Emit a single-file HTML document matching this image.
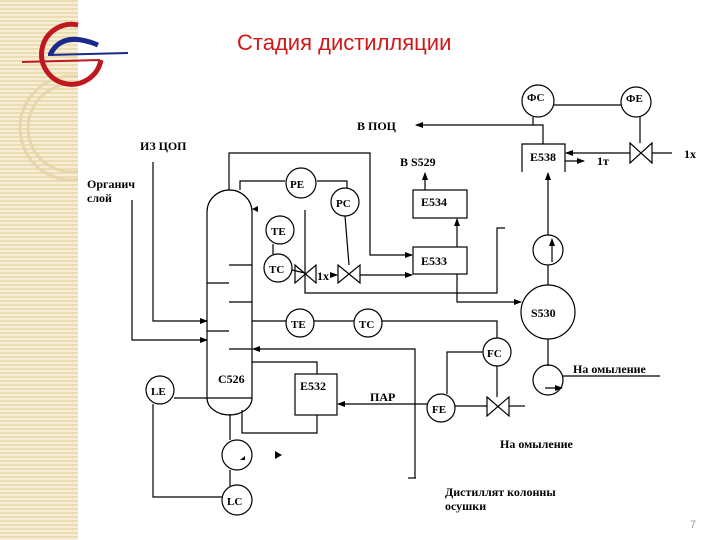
<!DOCTYPE html>
<html><head><meta charset="utf-8"><style>
html,body{margin:0;padding:0;width:720px;height:540px;overflow:hidden;background:#fff}
.strip{position:absolute;left:0;top:0;width:78px;height:540px;background:repeating-linear-gradient(180deg,#ecdcb4 0 2px,#f7eed6 2px 4px)}
</style></head><body>
<div class="strip"></div>
<svg width="720" height="540" style="position:absolute;left:0;top:0" font-family="Liberation Serif, serif" font-weight="bold" font-size="12">
<defs><marker id="a" markerWidth="8" markerHeight="8" refX="7" refY="4" orient="auto" markerUnits="userSpaceOnUse"><path d="M0,1L8,4L0,7z" fill="#000"/></marker>
<clipPath id="c"><rect x="0" y="0" width="78" height="540"/></clipPath></defs>
<!-- logo -->
<g clip-path="url(#c)" fill="none" stroke="#e6d6ac" stroke-width="3">
<circle cx="72" cy="128" r="52"/><circle cx="72" cy="128" r="44"/>
</g>
<path d="M78,25 A30,30 0 1 0 101,60" fill="none" stroke="#c01820" stroke-width="5"/>
<path d="M50,55 Q62,30 98,45" fill="none" stroke="#1a2a8a" stroke-width="5"/>
<line x1="22" y1="62" x2="100" y2="60" stroke="#c01820" stroke-width="2"/>
<line x1="48" y1="55" x2="128" y2="53" stroke="#1a2a8a" stroke-width="2"/>
<text x="237" y="50" font-family="Liberation Sans, sans-serif" font-weight="normal" font-size="22" fill="#d01818">Стадия дистилляции</text>
<g stroke="#000" stroke-width="1.2" fill="none">
<path d="M207,398 V212 A22.5,22 0 0 1 252,212 V398 A22.5,17 0 0 1 207,398"/>
<line x1="207" y1="398" x2="252" y2="398"/>
<line x1="229" y1="265" x2="252" y2="265"/><line x1="207" y1="283" x2="229" y2="283"/>
<line x1="229" y1="302" x2="252" y2="302"/><line x1="207" y1="331" x2="229" y2="331"/>
<line x1="229" y1="349" x2="252" y2="349"/>
<polyline points="153,162 153,321 207,321" marker-end="url(#a)"/>
<polyline points="132,200 132,340 207,340" marker-end="url(#a)"/>
<polyline points="229,190 229,153 370,153 370,255 412,255" marker-end="url(#a)"/>
<polyline points="240,190 240,181 285,181"/>
<polyline points="317,181 347,181 347,188"/>
<circle cx="301" cy="183" r="15"/><circle cx="345" cy="202" r="14"/>
<line x1="345" y1="216" x2="349" y2="265"/>
<circle cx="280" cy="230" r="14"/><circle cx="278" cy="268" r="14"/>
<line x1="273" y1="244" x2="273" y2="254"/>
<polyline points="292,270 305,273"/>
<path d="M295,265 L316,283 L316,265 L295,283Z"/>
<polyline points="305,210 305,293 497,293 497,228 505,228"/>
<line x1="330" y1="275" x2="337" y2="275" marker-end="url(#a)"/>
<path d="M338,265 L360,283 L360,265 L338,283Z"/>
<line x1="360" y1="275" x2="412" y2="275" marker-end="url(#a)"/>
<rect x="413" y="247" width="54" height="27"/>
<rect x="413" y="190" width="54" height="28"/>
<line x1="457" y1="247" x2="457" y2="219" marker-end="url(#a)"/>
<line x1="425" y1="190" x2="425" y2="173" marker-end="url(#a)"/>
<polyline points="457,274 457,302 521,302" marker-end="url(#a)"/>
<circle cx="548" cy="312" r="27"/>
<line x1="252" y1="321" x2="286" y2="321"/><circle cx="300" cy="323" r="14"/>
<line x1="314" y1="321" x2="354" y2="321"/><circle cx="368" cy="323" r="14"/>
<polyline points="382,321 497,321 497,338"/>
<circle cx="497" cy="352" r="14"/>
<polyline points="483,352 447,352 447,394"/>
<line x1="497" y1="366" x2="497" y2="397"/>
<circle cx="441" cy="408" r="14"/>
<line x1="455" y1="406" x2="487" y2="406"/>
<path d="M487,397 L509,416 L509,397 L487,416Z"/>
<line x1="509" y1="406" x2="525" y2="406"/>
<line x1="427" y1="404" x2="338" y2="404" marker-end="url(#a)"/>
<rect x="295" y="374" width="42" height="41"/>
<polyline points="317,374 317,362 252,362"/>
<polyline points="317,415 317,433 242,433 242,410"/>
<polyline points="415,478 415,349 253,349" marker-end="url(#a)"/>
<line x1="416" y1="478" x2="408" y2="478"/>
<line x1="230" y1="414" x2="230" y2="440"/>
<circle cx="237" cy="455" r="15"/>
<line x1="230" y1="470" x2="230" y2="486"/>
<circle cx="237" cy="500" r="15"/>
<circle cx="160" cy="390" r="14"/>
<line x1="174" y1="398" x2="207" y2="398"/>
<polyline points="153,404 153,497 222,497"/>
<line x1="548" y1="339" x2="548" y2="366"/>
<circle cx="548" cy="380" r="15"/>
<line x1="545" y1="388" x2="562" y2="388" marker-end="url(#a)"/>
<line x1="563" y1="376" x2="660" y2="376"/>
<line x1="548" y1="285" x2="548" y2="265"/>
<circle cx="548" cy="250" r="15"/>
<line x1="552" y1="262" x2="552" y2="239" marker-end="url(#a)"/>
<line x1="548" y1="235" x2="548" y2="173" marker-end="url(#a)"/>
<polyline points="522,172 522,144 565,144 565,172"/>
<circle cx="538" cy="101" r="16"/><circle cx="636" cy="102" r="15"/>
<line x1="554" y1="105" x2="621" y2="105"/>
<line x1="533" y1="117" x2="533" y2="125"/>
<polyline points="543,144 543,125 416,125" marker-end="url(#a)"/>
<line x1="640" y1="117" x2="640" y2="143"/>
<path d="M630,143 L652,163 L652,143 L630,163Z"/>
<line x1="630" y1="153" x2="566" y2="153" marker-end="url(#a)"/>
<line x1="652" y1="153" x2="672" y2="153"/>
<line x1="565" y1="161" x2="584" y2="161" marker-end="url(#a)"/>
</g>
<g fill="#000">
<path d="M275,451 l7,4 l-7,4z"/><path d="M245,456 l-5,4 l5,0z"/>
<path d="M258,206 l-6,3 l6,3z"/>
</g>
<text x="140" y="150">ИЗ ЦОП</text>
<text x="87" y="188">Органич</text><text x="87" y="202">слой</text>
<text x="290" y="188" font-size="11">PE</text><text x="336" y="207" font-size="11">PC</text>
<text x="271" y="235" font-size="11">TE</text><text x="269" y="273" font-size="11">TC</text>
<text x="317" y="280">1х</text>
<text x="400" y="166">В S529</text>
<text x="421" y="206">E534</text><text x="421" y="265">E533</text>
<text x="357" y="130">В ПОЦ</text>
<text x="531" y="317">S530</text>
<text x="291" y="328" font-size="11">TE</text><text x="359" y="328" font-size="11">TC</text>
<text x="487" y="357" font-size="11">FC</text><text x="432" y="413" font-size="11">FE</text>
<text x="218" y="383">C526</text><text x="300" y="390">E532</text>
<text x="370" y="401">ПАР</text>
<text x="151" y="395" font-size="11">LE</text><text x="227" y="505" font-size="11">LC</text>
<text x="573" y="373">На омыление</text>
<text x="500" y="448">На омыление</text>
<text x="445" y="496">Дистиллят колонны</text><text x="445" y="510">осушки</text>
<text x="527" y="101" font-size="11">ФС</text><text x="626" y="102" font-size="11">ФЕ</text>
<text x="530" y="161">E538</text>
<text x="597" y="165">1т</text><text x="684" y="158">1х</text>
<text x="690" y="528" font-family="Liberation Sans, sans-serif" font-weight="normal" font-size="11" fill="#999">7</text>
</svg>
</body></html>
